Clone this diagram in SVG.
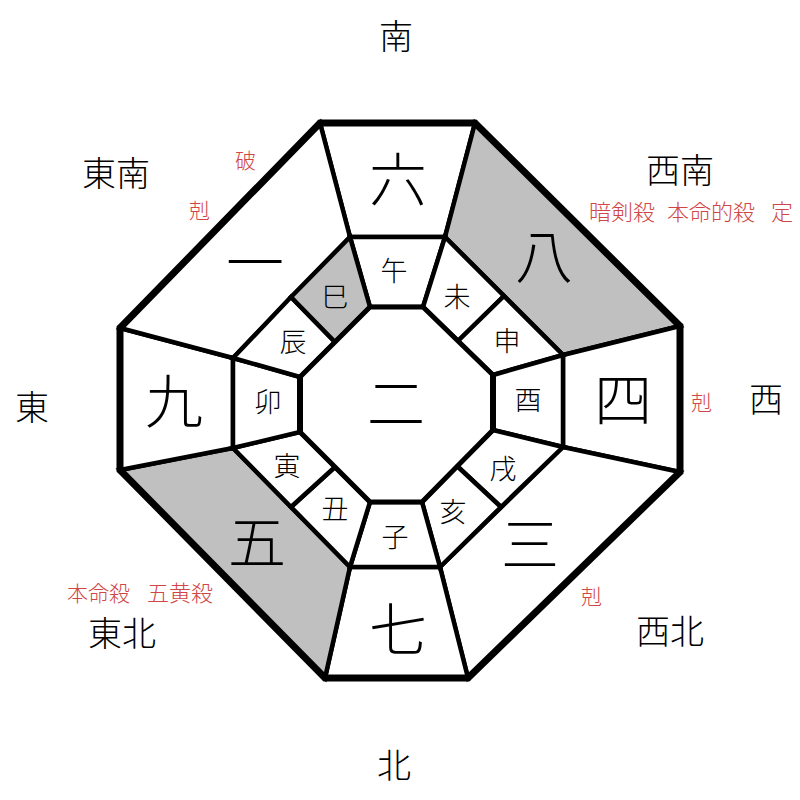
<svg xmlns="http://www.w3.org/2000/svg" width="800" height="800" viewBox="0 0 800 800">
<style>
.cell{fill:#ffffff;stroke:#000;stroke-width:4.5;stroke-linejoin:miter}
.gray{fill:#c0c0c0}
.t{font-family:"Noto Sans CJK JP","Noto Sans CJK SC",sans-serif;font-weight:300;fill:#000;text-anchor:middle}
.num{font-size:58px}
.br{font-size:27px}
.dir{font-size:34px}
.red{font-family:"Noto Sans CJK JP","Noto Sans CJK SC",sans-serif;font-weight:300;fill:#d04545;font-size:21px}
</style>
<rect width="800" height="800" fill="#fff"/>
<g id="sectors">
<g id="s6"><polygon class="cell" points="320,123 475,123 445,237 350,237"/><text class="t num" x="398" y="201">六</text></g>
<g id="s8"><polygon class="cell gray" points="475,123 680,326 563,355 445,237"/><text class="t num" x="544" y="278">八</text></g>
<g id="s4"><polygon class="cell" points="680,326 680,472 563,447 563,355"/><text class="t num" x="623" y="421">四</text></g>
<g id="s3"><polygon class="cell" points="680,472 468,678 440,567 563,447"/><text class="t num" x="530" y="566">三</text></g>
<g id="s7"><polygon class="cell" points="468,678 325,678 350,567 440,567"/><text class="t num" x="398" y="651">七</text></g>
<g id="s5"><polygon class="cell gray" points="325,678 120,470 233,448 350,567"/><text class="t num" x="257" y="564">五</text></g>
<g id="s9"><polygon class="cell" points="120,470 120,328 233,358 233,448"/><text class="t num" x="174" y="423">九</text></g>
<g id="s1"><polygon class="cell" points="120,328 320,123 350,237 233,358"/><text class="t num" x="255" y="284">一</text></g>
</g>
<g id="branches">
<g id="b-uma"><polygon class="cell" points="350,237 445,237 423,307 370,307"/><text class="t br" x="394" y="281">午</text></g>
<g id="b-hitsuji"><polygon class="cell" points="445,237 504,296 458,341 423,307"/><text class="t br" x="457" y="307">未</text></g>
<g id="b-saru"><polygon class="cell" points="504,296 563,355 493,375 458,341"/><text class="t br" x="507" y="351">申</text></g>
<g id="b-tori"><polygon class="cell" points="563,355 563,447 493,430 493,375"/><text class="t br" x="528" y="410">酉</text></g>
<g id="b-inu"><polygon class="cell" points="563,447 501,507 457,466 493,430"/><text class="t br" x="503" y="479">戌</text></g>
<g id="b-i"><polygon class="cell" points="501,507 440,567 422,502 457,466"/><text class="t br" x="453" y="522">亥</text></g>
<g id="b-ne"><polygon class="cell" points="440,567 350,567 370,502 422,502"/><text class="t br" x="395" y="547">子</text></g>
<g id="b-ushi"><polygon class="cell" points="350,567 291,507 335,467 370,502"/><text class="t br" x="335" y="519">丑</text></g>
<g id="b-tora"><polygon class="cell" points="291,507 233,448 300,432 335,467"/><text class="t br" x="287" y="476">寅</text></g>
<g id="b-u"><polygon class="cell" points="233,448 233,358 300,377 300,432"/><text class="t br" x="268" y="412">卯</text></g>
<g id="b-tatsu"><polygon class="cell" points="233,358 291,297 335,342 300,377"/><text class="t br" x="293" y="352">辰</text></g>
<g id="b-mi"><polygon class="cell gray" points="291,297 350,237 370,307 335,342"/><text class="t br" x="335" y="307">巳</text></g>
</g>
<g id="center"><polygon class="cell" points="370,307 423,307 493,375 493,430 422,502 370,502 300,432 300,377" style="stroke-width:5"/><text class="t num" x="396" y="425">二</text></g>
<g id="frame">
<polygon points="320,123 475,123 680,326 680,472 468,678 325,678 120,470 120,328" fill="none" stroke="#000" stroke-width="7" stroke-linejoin="miter"/>
<line x1="300" y1="377" x2="300" y2="432" stroke="#000" stroke-width="6"/>
<line x1="493" y1="375" x2="493" y2="430" stroke="#000" stroke-width="6"/>
</g>
<g id="directions">
<text class="t dir" x="396" y="49">南</text>
<text class="t dir" x="116" y="186">東南</text>
<text class="t dir" x="680" y="183">西南</text>
<text class="t dir" x="32" y="420">東</text>
<text class="t dir" x="766" y="412">西</text>
<text class="t dir" x="122" y="646">東北</text>
<text class="t dir" x="670" y="644">西北</text>
<text class="t dir" x="394" y="778">北</text>
</g>
<g id="notes">
<text class="red" x="235" y="168">破</text>
<text class="red" x="189" y="218">剋</text>
<text class="red" x="589" y="220" style="font-size:22px">暗剣殺</text>
<text class="red" x="667" y="220" style="font-size:22px">本命的殺</text>
<text class="red" x="771" y="220" style="font-size:22px">定</text>
<text class="red" x="691" y="410">剋</text>
<text class="red" x="581" y="604">剋</text>
<text class="red" x="67" y="601">本命殺</text>
<text class="red" x="147" y="601" style="font-size:22px">五黄殺</text>
</g>
</svg>
